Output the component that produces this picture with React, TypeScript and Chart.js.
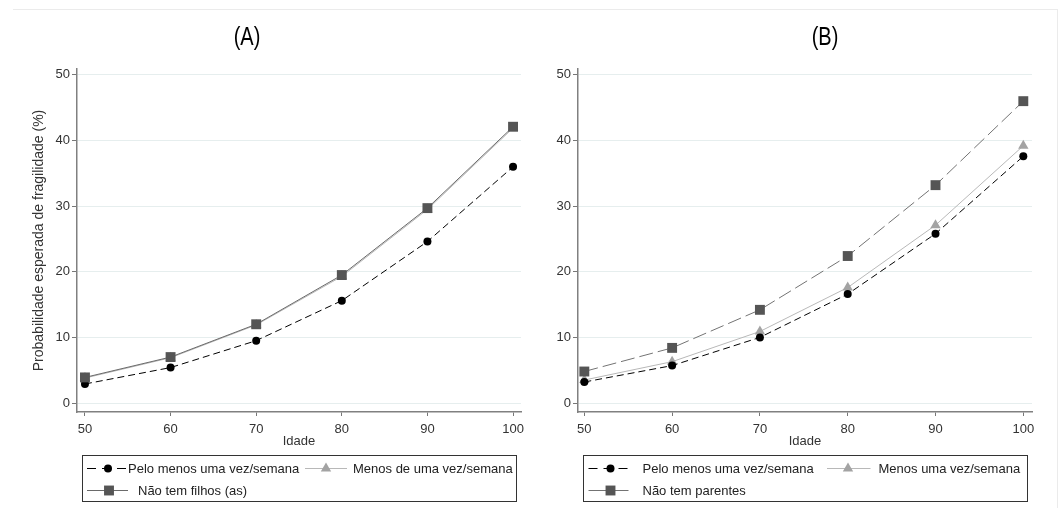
import React, { useEffect, useRef } from 'react';
import { Chart, registerables } from 'chart.js';
Chart.register(...registerables);

// ---- data ----
const ages = [50, 60, 70, 80, 90, 100];
const xTicks = [50, 60, 70, 80, 90, 100];
const yTicks = [0, 10, 20, 30, 40, 50];

const aPeloMenos = [2.9, 5.4, 9.5, 15.6, 24.6, 36.0];
const aMenosDe = [3.8, 6.9, 11.9, 19.3, 29.5, 41.9];
const aNaoFilhos = [3.9, 7.0, 12.0, 19.5, 29.7, 42.1];

const bPeloMenos = [3.2, 5.7, 10.0, 16.6, 25.8, 37.6];
const bMenos = [3.5, 6.3, 10.9, 17.6, 27.1, 39.2];
const bNaoParentes = [4.8, 8.4, 14.2, 22.4, 33.2, 46.0];

const aLabels = ['Pelo menos uma vez/semana', 'Menos de uma vez/semana', 'Não tem filhos (as)'];
const bLabels = ['Pelo menos uma vez/semana', 'Menos uma vez/semana', 'Não tem parentes'];
const titleA = '(A)';
const titleB = '(B)';
const xTitle = 'Idade';
const yTitle = 'Probabilidade esperada de fragilidade (%)';

const FONT = '"Liberation Sans", Arial, sans-serif';

function drawMarker(ctx: CanvasRenderingContext2D, style: string, x: number, y: number, r: number, color: string) {
  ctx.save();
  ctx.fillStyle = color;
  ctx.beginPath();
  if (style === 'circle') {
    ctx.arc(x, y, r, 0, Math.PI * 2);
  } else if (style === 'rect') {
    const s = Math.SQRT1_2 * r;
    ctx.rect(x - s, y - s, 2 * s, 2 * s);
  } else if (style === 'triangle') {
    let rad = 0;
    ctx.moveTo(x + Math.sin(rad) * r, y - Math.cos(rad) * r);
    rad += (2 * Math.PI) / 3;
    ctx.lineTo(x + Math.sin(rad) * r, y - Math.cos(rad) * r);
    rad += (2 * Math.PI) / 3;
    ctx.lineTo(x + Math.sin(rad) * r, y - Math.cos(rad) * r);
    ctx.closePath();
  }
  ctx.fill();
  ctx.restore();
}

type LegendItem = { idx: number; y: number; x0: number; x1: number; mx: number; tx: number };

function makeDecorPlugin(title: string, titleX: number, items: LegendItem[]) {
  return {
    id: 'decor',
    afterDraw(chart: any) {
      const { ctx, chartArea } = chart;
      ctx.save();
      // panel title (narrow)
      ctx.save();
      ctx.translate(titleX, 38);
      ctx.scale(0.8, 1);
      ctx.font = '25px ' + FONT;
      ctx.fillStyle = '#000';
      ctx.textAlign = 'center';
      ctx.textBaseline = 'middle';
      ctx.fillText(title, 0, 0);
      ctx.restore();

      // legend box
      const left = Math.round(chartArea.left + 5);
      const right = Math.round(chartArea.right - 5);
      ctx.strokeStyle = '#333';
      ctx.lineWidth = 1;
      ctx.strokeRect(left + 0.5, 455.5, right - left, 46);
      items.forEach((it) => {
        const ds = chart.data.datasets[it.idx];
        ctx.beginPath();
        ctx.setLineDash(ds.legendDash || []);
        ctx.strokeStyle = ds.borderColor;
        ctx.lineWidth = 1;
        ctx.moveTo(left + it.x0, it.y + 0.5);
        ctx.lineTo(left + it.x1, it.y + 0.5);
        ctx.stroke();
        ctx.setLineDash([]);
        drawMarker(ctx, ds.pointStyle, left + it.mx, it.y + 0.5, ds.pointRadius, ds.pointBackgroundColor);
        ctx.fillStyle = '#222';
        ctx.font = '13px ' + FONT;
        ctx.textAlign = 'left';
        ctx.textBaseline = 'middle';
        ctx.fillText(ds.label, left + it.tx, it.y + 1);
      });
      ctx.restore();
    },
  };
}

type PanelProps = {
  left: number;
  width: number;
  padLeft: number;
  padRight: number;
  xMin: number;
  xMax: number;
  title: string;
  titleX: number;
  labels: string[];
  series: number[][];
  squareDash: number[];
  squareLine: string;
  showYTitle: boolean;
  legend: LegendItem[];
};

function Panel(p: PanelProps) {
  const ref = useRef<HTMLCanvasElement | null>(null);
  useEffect(() => {
    if (!ref.current) return;
    const datasets: any[] = [
      {
        label: p.labels[0],
        data: p.series[0],
        borderColor: '#000',
        borderWidth: 1,
        borderDash: [7, 4],
        legendDash: [9, 6],
        pointStyle: 'circle',
        pointRadius: 4,
        pointBackgroundColor: '#000',
        pointBorderColor: '#000',
        pointBorderWidth: 0,
        order: 2,
      },
      {
        label: p.labels[1],
        data: p.series[1],
        borderColor: '#b8b8b8',
        borderWidth: 1,
        borderDash: [],
        legendDash: [],
        pointStyle: 'triangle',
        pointRadius: 6,
        pointBackgroundColor: '#a3a3a3',
        pointBorderColor: '#a3a3a3',
        pointBorderWidth: 0,
        order: 3,
      },
      {
        label: p.labels[2],
        data: p.series[2],
        borderColor: p.squareLine,
        borderWidth: 1,
        borderDash: p.squareDash,
        legendDash: [],
        pointStyle: 'rect',
        pointRadius: 7,
        pointBackgroundColor: '#555555',
        pointBorderColor: '#555555',
        pointBorderWidth: 0,
        order: 1,
      },
    ];
    const chart = new Chart(ref.current, {
      type: 'line',
      data: { labels: ages, datasets: datasets.map((d) => ({ ...d, data: d.data.map((v: number, i: number) => ({ x: ages[i], y: v })) })) },
      options: {
        animation: false,
        responsive: false,
        devicePixelRatio: 1,
        layout: { padding: { top: 69, bottom: 56, left: p.padLeft, right: p.padRight } },
        elements: { line: { tension: 0 } },
        plugins: { legend: { display: false }, tooltip: { enabled: false }, title: { display: false } },
        scales: {
          x: {
            type: 'linear',
            min: p.xMin,
            max: p.xMax,
            afterBuildTicks: (s: any) => {
              s.ticks = xTicks.map((v) => ({ value: v }));
            },
            afterFit: (s: any) => {
              s.height = 40;
            },
            grid: { drawOnChartArea: false, tickLength: 4, tickColor: '#777', tickWidth: 1 },
            border: { color: '#808080', width: 1.5 },
            ticks: { color: '#333', font: { family: FONT, size: 13 }, padding: 6, maxRotation: 0, autoSkip: false },
            title: { display: true, text: xTitle, color: '#333', font: { family: FONT, size: 13 }, padding: { top: 0, bottom: 3 } },
          },
          y: {
            type: 'linear',
            min: -1.37,
            max: 50.9,
            afterBuildTicks: (s: any) => {
              s.ticks = yTicks.map((v) => ({ value: v }));
            },
            afterFit: (s: any) => {
              s.width = 57;
            },
            grid: { color: '#e6eeee', lineWidth: 1, tickLength: 5, tickColor: '#777', tickWidth: 1 },
            border: { color: '#808080', width: 1.5 },
            ticks: { color: '#333', font: { family: FONT, size: 13 }, padding: 2 },
            title: {
              display: p.showYTitle,
              text: yTitle,
              color: '#333',
              font: { family: FONT, size: 14 },
              padding: { top: 11, bottom: 0 },
            },
          },
        },
      },
      plugins: [makeDecorPlugin(p.title, p.titleX, p.legend)],
    } as any);
    return () => chart.destroy();
  }, []);
  return (
    <canvas
      ref={ref}
      width={p.width}
      height={508}
      style={{ position: 'absolute', left: p.left, top: 0, width: p.width, height: 508 }}
    />
  );
}

export default function App() {
  return (
    <div style={{ position: 'absolute', left: 0, top: 0, width: 1063, height: 508, background: '#fff', overflow: 'hidden' }}>
      <div
        style={{
          position: 'absolute',
          left: 13,
          top: 9,
          width: 1044,
          height: 520,
          borderTop: '1px solid #ebebeb',
          borderRight: '1px solid #ebebeb',
        }}
      />
      <Panel
        left={0}
        width={531}
        padLeft={20}
        padRight={10}
        xMin={49.07}
        xMax={100.93}
        title={titleA}
        titleX={247}
        labels={aLabels}
        series={[aPeloMenos, aMenosDe, aNaoFilhos]}
        squareDash={[]}
        squareLine="#6a6a6a"
        showYTitle={true}
        legend={[
          { idx: 0, y: 468, x0: 5, x1: 46, mx: 26, tx: 46 },
          { idx: 1, y: 468, x0: 223, x1: 265, mx: 244, tx: 271 },
          { idx: 2, y: 490, x0: 5, x1: 46, mx: 27, tx: 56 },
        ]}
      />
      <Panel
        left={500}
        width={563}
        padLeft={21}
        padRight={31}
        xMin={49.28}
        xMax={100.99}
        title={titleB}
        titleX={325}
        labels={bLabels}
        series={[bPeloMenos, bMenos, bNaoParentes]}
        squareDash={[14, 5]}
        squareLine="#737373"
        showYTitle={false}
        legend={[
          { idx: 0, y: 468, x0: 5.5, x1: 45.5, mx: 27.5, tx: 59.5 },
          { idx: 1, y: 468, x0: 244, x1: 287.5, mx: 265, tx: 295.5 },
          { idx: 2, y: 490, x0: 5.5, x1: 45.5, mx: 27.5, tx: 59.5 },
        ]}
      />
    </div>
  );
}
